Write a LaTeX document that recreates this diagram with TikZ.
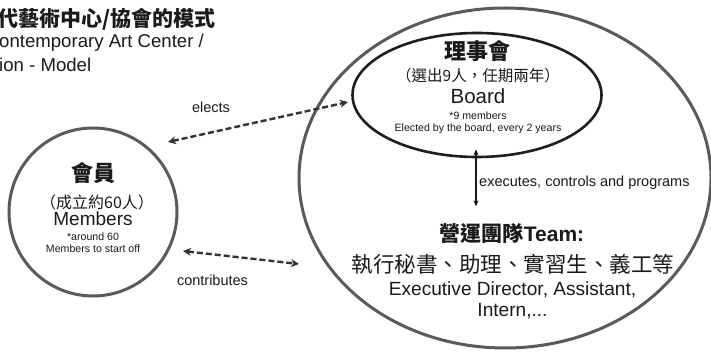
\documentclass[tikz,border=0pt]{standalone}
\usepackage{fontspec}
\setmainfont{Liberation Sans}
\newfontfamily\cjk{Noto Sans CJK TC}
\usetikzlibrary{arrows.meta,shapes.geometric}
\definecolor{ink}{HTML}{1A1A1A}
\definecolor{ringgray}{HTML}{5A5A5A}
\definecolor{boardline}{HTML}{1E1E1E}
\definecolor{dashcol}{HTML}{333333}
\newcommand{\fs}[1]{\fontsize{#1}{#1}\selectfont}
\begin{document}
\begin{tikzpicture}[x=1pt,y=-1pt,
  txt/.style={inner sep=0pt, text=ink},
  ring/.style={draw=ringgray, line width=3pt, inner sep=0pt},
  dasharrow/.style={draw=dashcol, line width=2.4pt, dash pattern=on 6pt off 3pt,
    {Stealth[length=8pt,width=8pt]}-{Stealth[length=8pt,width=8pt]}},
  solidarrow/.style={draw=ink, line width=1.2pt,
    {Stealth[length=6pt,width=5pt]}-{Stealth[length=6pt,width=5pt]}}]
\useasboundingbox (0,0) rectangle (711,352);
\fill[white] (0,0) rectangle (711,352);

% title
\node[txt, anchor=west, font=\cjk\bfseries\fs{21}] (title) at (-3,19) {代藝術中心/協會的模式};
\node[txt, anchor=base west, font=\fs{18.6}] (title2) at (-1,48) {ontemporary Art Center /};
\node[txt, anchor=base west, font=\fs{18.6}] (title3) at (-1,72) {ion - Model};

% shapes
\node[ring, ellipse, minimum width=412pt, minimum height=340pt] (org) at (505,178) {};
\node[ring, circle, minimum size=168pt] (members) at (93,212) {};
\node[draw=boardline, line width=2.6pt, ellipse, minimum width=249pt, minimum height=124pt, inner sep=0pt] (board) at (477,95) {};

% members text
\node[txt, font=\cjk\bfseries\fs{22}] (memcn) at (93,173) {會員};
\node[txt, font=\cjk\fs{16}] (memcn2) at (97,202) {（成立約60人）};
\node[txt, anchor=base, font=\fs{19}] (memen) at (93,226) {Members};
\node[txt, anchor=base, font=\fs{10.6}] (memnote1) at (93,241) {*around 60};
\node[txt, anchor=base, font=\fs{10.6}] (memnote2) at (93,252.5) {Members to start off};

% board text
\node[txt, font=\cjk\bfseries\fs{22}] (boardcn) at (477,51) {理事會};
\node[txt, font=\cjk\fs{15.5}] (boardcn2) at (478,76) {（選出9人，任期兩年）};
\node[txt, anchor=base, font=\fs{20.5}] (boarden) at (478,104) {Board};
\node[txt, anchor=base, font=\fs{10.6}] (boardnote1) at (478,120) {*9 members};
\node[txt, anchor=base, font=\fs{10.6}] (boardnote2) at (478,131.5) {Elected by the board, every 2 years};

% team text
\node[txt, anchor=base, font=\fs{21}] (teamhead) at (512,241.5) {{\cjk\bfseries 營運團隊}\textbf{Team:}};
\node[txt, font=\cjk\fs{21.5}] (teamcn) at (513,264) {執行秘書、助理、實習生、義工等};
\node[txt, anchor=base, font=\fs{19.1}] (teamen1) at (512.5,295) {Executive Director, Assistant,};
\node[txt, anchor=base, font=\fs{19.1}] (teamen2) at (512.5,316) {Intern,...};

% connectors
\coordinate (elA) at (168,142);
\coordinate (elB) at (348,102);
\coordinate (coA) at (183,251);
\coordinate (coB) at (299,264);
\draw[dasharrow] (elA) -- (elB);
\draw[dasharrow] (coA) -- (coB);
\draw[solidarrow] ([xshift=-1pt,yshift=9pt]board.south) -- ([xshift=-36pt,yshift=17pt]teamhead.north);

% labels
\node[txt, anchor=base, font=\fs{14.5}] (elects) at (211,113) {elects};
\node[txt, anchor=base, font=\fs{14.5}] (contrib) at (212.5,285) {contributes};
\node[txt, anchor=base west, font=\fs{14.5}] (exec) at (479,186.7) {executes, controls and programs};
\end{tikzpicture}
\end{document}
